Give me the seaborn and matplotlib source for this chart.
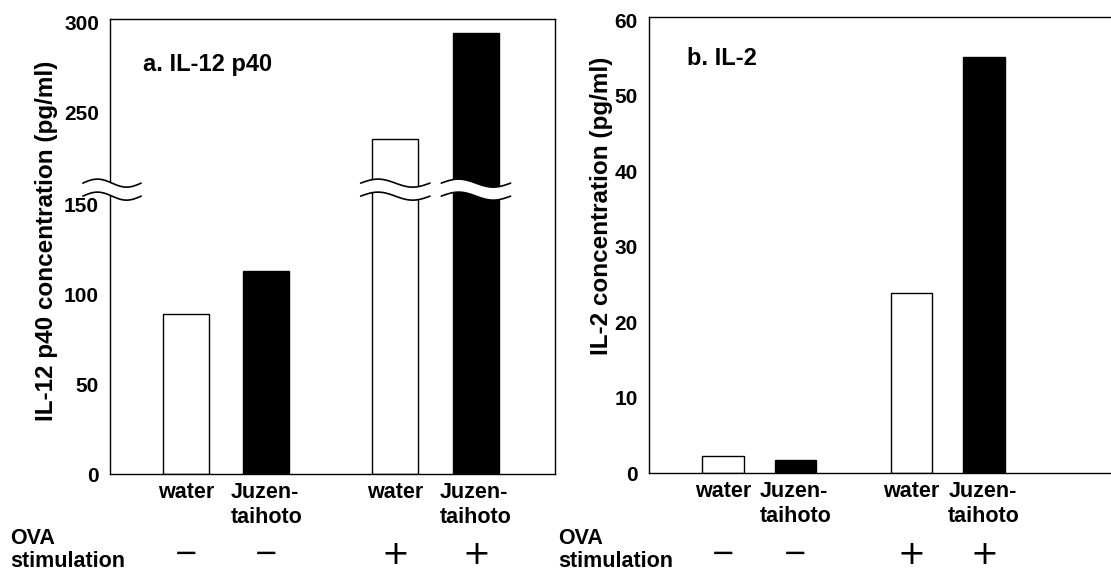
import numpy as np
import pandas as pd
import matplotlib
matplotlib.use("Agg")
import matplotlib.pyplot as plt
import matplotlib.transforms as mtransforms
import seaborn as sns

# values
treatment = ["water", "Juzen-taihoto", "water", "Juzen-taihoto"]
ova = ["−", "−", "+", "+"]
il12_p40 = [89, 113, 235, 294]
il2 = [2.2, 1.7, 23.9, 55.1]
tick_labels = ["water", "Juzen-\ntaihoto", "water", "Juzen-\ntaihoto"]
il12_ticks = [0, 50, 100, 150, 250, 300]
il2_ticks = [0, 10, 20, 30, 40, 50, 60]

# bars sit in two pairs with a wider gap between the OVA groups
group = [0, 0, 1, 1]
sub = [0, 1, 0, 1]
pos = [g * 2.6 + s for g, s in zip(group, sub)]

df = pd.DataFrame({"pos": pos, "treatment": treatment,
                   "il12": il12_p40, "il2": il2})
palette = {"water": "white", "Juzen-taihoto": "black"}

sns.set_theme(style="white")
plt.rcParams["font.family"] = ["Liberation Sans", "DejaVu Sans"]
plt.rcParams["font.weight"] = "bold"
plt.rcParams["text.color"] = "black"
plt.rcParams["xtick.color"] = "black"
plt.rcParams["ytick.color"] = "black"
plt.rcParams["axes.labelcolor"] = "black"

# broken y axis for panel a: 157..208 squeezed into a small gap
LO, HI, SHIFT = 157.0, 208.0, 49.0


def fwd(v):
    v = np.asarray(v, dtype=float)
    mid = LO + (v - LO) * (HI - SHIFT - LO) / (HI - LO)
    return np.where(v <= LO, v, np.where(v >= HI, v - SHIFT, mid))


def inv(d):
    d = np.asarray(d, dtype=float)
    mid = LO + (d - LO) * (HI - LO) / (HI - SHIFT - LO)
    return np.where(d <= LO, d, np.where(d >= HI - SHIFT, d + SHIFT, mid))


def draw_break(ax, x0, x1, xtrans, yc, half=0.0143, amp=0.0088):
    t = np.linspace(0, 1, 80)
    x = x0 + (x1 - x0) * t
    w = amp * np.sin(2 * np.pi * t)
    up = yc + half + w
    lo = yc - half + w
    trans = mtransforms.blended_transform_factory(xtrans, ax.transAxes)
    ax.fill(np.r_[x, x[::-1]], np.r_[up, lo[::-1]], color="white", lw=0,
            transform=trans, clip_on=False, zorder=5)
    ax.plot(x, up, color="black", lw=1.2, transform=trans, clip_on=False, zorder=6)
    ax.plot(x, lo, color="black", lw=1.2, transform=trans, clip_on=False, zorder=6)


fig = plt.figure(figsize=(11.11, 5.72), dpi=100)
ax1 = fig.add_axes([0.099, 0.1713, 0.4005, 0.7955])
ax2 = fig.add_axes([0.5842, 0.173, 0.4158, 0.797])

for ax, col in [(ax1, "il12"), (ax2, "il2")]:
    sns.barplot(data=df, x="pos", y=col, hue="treatment", palette=palette,
                native_scale=True, dodge=False, width=0.57, edgecolor="black",
                linewidth=1, errorbar=None, legend=False, ax=ax)
    ax.set_xlabel("")
    ax.set_ylabel("")
    ax.set_xticks(pos)
    ax.set_xticklabels(tick_labels, fontsize=15.5, fontweight="bold",
                       multialignment="left", linespacing=1.25)
    ax.tick_params(axis="both", length=0)
    ax.tick_params(axis="x", pad=6)
    ax.tick_params(axis="y", pad=8)
    for s in ax.spines.values():
        s.set_color("black")
        s.set_linewidth(1)

# panel a
ax1.set_yscale("function", functions=(fwd, inv))
ax1.set_yticks(il12_ticks)
ax1.set_yticklabels([str(v) for v in il12_ticks], fontsize=15, fontweight="bold")
ax1.set_xlim(-0.94, 4.58)
ax1.set_ylim(0, 301.8)
ax1.text(0.074, 0.899, "a. IL-12 p40", transform=ax1.transAxes, fontsize=17,
         fontweight="bold", ha="left", va="center")

yc = ax1.transAxes.inverted().transform(ax1.transData.transform((0, 182.5)))[1]
draw_break(ax1, -0.061, 0.07, ax1.transAxes, yc)
for p, v in zip(pos, il12_p40):
    if v > HI:
        draw_break(ax1, p - 0.43, p + 0.43, ax1.transData, yc)

# panel b
ax2.set_yticks(il2_ticks)
ax2.set_yticklabels([str(v) for v in il2_ticks], fontsize=15, fontweight="bold")
ax2.set_xlim(-1.02, 5.35)
ax2.set_ylim(0, 60.4)
ax2.spines["right"].set_visible(False)
ax2.text(0.082, 0.910, "b. IL-2", transform=ax2.transAxes, fontsize=17,
         fontweight="bold", ha="left", va="center")

fig.text(47 / 1111, 1 - 241 / 572, "IL-12 p40 concentration (pg/ml)", rotation=90,
         ha="center", va="center", fontsize=17.5, fontweight="bold")
fig.text(602 / 1111, 1 - 206 / 572, "IL-2 concentration (pg/ml)", rotation=90,
         ha="center", va="center", fontsize=17.5, fontweight="bold")

# OVA stimulation row
for ax, xleft in [(ax1, 10 / 1111), (ax2, 558 / 1111)]:
    fig.text(xleft, 0.038, "OVA\nstimulation", ha="left", va="center",
             fontsize=15.5, fontweight="bold", linespacing=1.15)
    tr = mtransforms.blended_transform_factory(ax.transData, fig.transFigure)
    for p, sign in zip(pos, ova):
        ax.text(p, 0.031, sign, transform=tr, ha="center", va="center",
                fontsize=24 if sign == "+" else 21, fontweight="normal",
                family="DejaVu Sans")

fig.savefig("out.png", dpi=100)
